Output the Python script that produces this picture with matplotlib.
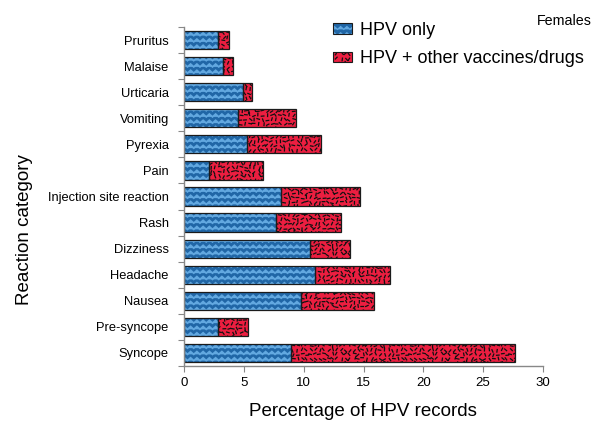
import warnings
import numpy as np
import matplotlib
matplotlib.use("Agg")
import matplotlib.pyplot as plt
from matplotlib import hatch as mhatch
from matplotlib.patches import Patch
from matplotlib.legend_handler import HandlerTuple

warnings.filterwarnings("ignore")

# ---------------- data ----------------
categories = ["Pruritus", "Malaise", "Urticaria", "Vomiting", "Pyrexia", "Pain",
              "Injection site reaction", "Rash", "Dizziness", "Headache", "Nausea",
              "Pre-syncope", "Syncope"]
hpv_only = [2.85, 3.3, 4.9, 4.5, 5.3, 2.05, 8.1, 7.7, 10.55, 10.95, 9.8, 2.85, 8.95]
hpv_plus_other = [0.95, 0.8, 0.8, 4.9, 6.15, 4.55, 6.6, 5.4, 3.35, 6.25, 6.1, 2.5, 18.75]
series_labels = ["HPV only", "HPV + other vaccines/drugs"]
x_ticks = [0, 5, 10, 15, 20, 25, 30]


# ---------------- custom hatch textures ----------------
def _hash(v):
    return (np.sin(v * 12.9898 + 78.233) * 43758.5453) % 1.0


class ZigZagHatch(mhatch.HatchPatternBase):
    def __init__(self, hatch, density):
        self.rows = 16 if 'z' in hatch else 0
        self.teeth = 16
        self.num_vertices = self.rows * (2 * self.teeth + 1)

    def set_vertices_and_codes(self, vertices, codes):
        amp = 0.028
        i = 0
        for r in range(self.rows):
            y0 = (r + 0.3) / self.rows
            for k in range(2 * self.teeth + 1):
                vertices[i] = (k / (2 * self.teeth), y0 + (k % 2) * amp)
                codes[i] = mhatch.Path.MOVETO if k == 0 else mhatch.Path.LINETO
                i += 1


class DashHatch(mhatch.HatchPatternBase):
    def __init__(self, hatch, density):
        self.g = 23 if 'r' in hatch else 0
        self.num_vertices = 2 * self.g * self.g

    def set_vertices_and_codes(self, vertices, codes):
        L = 0.013
        g = self.g
        i = 0
        for a in range(g):
            for b in range(g):
                s = a * 131.7 + b * 17.3 + 1
                cx = (a + 0.25 + 0.5 * _hash(s)) / g
                cy = (b + 0.25 + 0.5 * _hash(s + 0.37)) / g
                ang = np.pi * _hash(s * 1.93 + 0.71)
                dx, dy = L * np.cos(ang), L * np.sin(ang)
                x0, y0 = np.clip(cx - dx, 0.005, 0.995), np.clip(cy - dy, 0.005, 0.995)
                x1, y1 = np.clip(cx + dx, 0.005, 0.995), np.clip(cy + dy, 0.005, 0.995)
                vertices[2 * i] = (x0, y0)
                vertices[2 * i + 1] = (x1, y1)
                codes[2 * i] = mhatch.Path.MOVETO
                codes[2 * i + 1] = mhatch.Path.LINETO
                i += 1


mhatch._hatch_types.append(ZigZagHatch)
mhatch._hatch_types.append(DashHatch)
mhatch._validate_hatch_pattern = lambda h: None

# ---------------- style ----------------
plt.rcParams['font.family'] = ['Liberation Sans', 'DejaVu Sans']

blue_face = "#2066a6"
blue_hatch = "#62a8e0"
red_face = "#ec1e40"
red_hatch = "#111111"
outline = "#1b1b1b"

fig = plt.figure(figsize=(5.98, 4.28), dpi=100)
ax = fig.add_axes([184 / 598, (428 - 366) / 428, (543 - 184) / 598, (366 - 27) / 428])

y = np.arange(len(categories))
h = 0.7
left2 = np.array(hpv_only)

plt.rcParams['hatch.linewidth'] = 1.3
b1 = ax.barh(y, hpv_only, height=h, color=blue_face, hatch='z', edgecolor=blue_hatch, linewidth=0)
plt.rcParams['hatch.linewidth'] = 0.9
b2 = ax.barh(y, hpv_plus_other, left=left2, height=h, color=red_face, hatch='r',
             edgecolor=red_hatch, linewidth=0)
o1 = ax.barh(y, hpv_only, height=h, fill=False, edgecolor=outline, linewidth=0.9)
o2 = ax.barh(y, hpv_plus_other, left=left2, height=h, fill=False, edgecolor=outline, linewidth=0.9)

ax.set_xlim(0, 30)
ax.set_ylim(len(categories) - 0.5, -0.5)
ax.set_xticks(x_ticks)
ax.set_xticklabels([str(t) for t in x_ticks], fontsize=9.5)
ax.set_yticks(np.arange(-0.5, len(categories), 1.0))
ax.set_yticklabels([])
ax.set_yticks(y, minor=True)
ax.set_yticklabels(categories, minor=True, fontsize=9.3)
ax.tick_params(axis='y', which='minor', length=0, pad=11)
ax.tick_params(axis='y', which='major', length=4, color="#888888", direction='out')
ax.tick_params(axis='x', length=4, color="#888888", direction='out', pad=4)
for s in ['top', 'right']:
    ax.spines[s].set_visible(False)
for s in ['left', 'bottom']:
    ax.spines[s].set_color("#888888")
    ax.spines[s].set_linewidth(1.0)

ax.set_xlabel("Percentage of HPV records", fontsize=13.5)
ax.set_ylabel("Reaction category", fontsize=13.5)
ax.xaxis.set_label_coords(363 / 598, 1 - 403 / 428, transform=fig.transFigure)
ax.yaxis.set_label_coords(33 / 598, 1 - 230 / 428, transform=fig.transFigure)

fig.text(592 / 598, 1 - 21 / 428, "Females", ha='right', va='center', fontsize=10.3)

plt.rcParams['hatch.linewidth'] = 1.3
hp1 = Patch(facecolor=blue_face, hatch='z', edgecolor=blue_hatch, linewidth=0)
plt.rcParams['hatch.linewidth'] = 0.9
hp2 = Patch(facecolor=red_face, hatch='r', edgecolor=red_hatch, linewidth=0)
ho1 = Patch(fill=False, edgecolor=outline, linewidth=0.8)
ho2 = Patch(fill=False, edgecolor=outline, linewidth=0.8)
fig.legend([(hp1, ho1), (hp2, ho2)], series_labels,
           handler_map={tuple: HandlerTuple(ndivide=1, pad=0)},
           loc='upper left', bbox_to_anchor=(333 / 598, 1 - 22 / 428),
           frameon=False, fontsize=13, handlelength=1.05, handleheight=0.5,
           handletextpad=0.45, labelspacing=0.62, borderpad=0, borderaxespad=0)

fig.savefig("out.png", dpi=100)
